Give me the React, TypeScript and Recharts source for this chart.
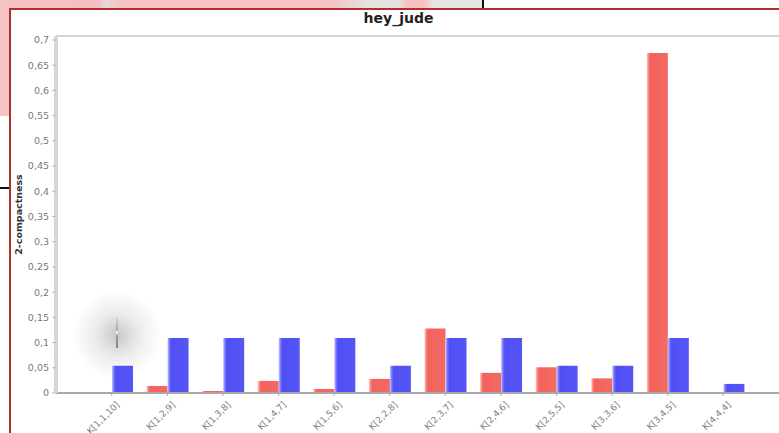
import React from "react";
import { BarChart, Bar, XAxis, YAxis } from "recharts";

const categories = [
  "K[1,1,10]", "K[1,2,9]", "K[1,3,8]", "K[1,4,7]", "K[1,5,6]", "K[2,2,8]",
  "K[2,3,7]", "K[2,4,6]", "K[2,5,5]", "K[3,3,6]", "K[3,4,5]", "K[4,4,4]",
];
const redValues = [0, 0.014, 0.004, 0.024, 0.008, 0.028, 0.128, 0.04, 0.051, 0.029, 0.674, 0];
const blueValues = [0.054, 0.109, 0.109, 0.109, 0.109, 0.054, 0.109, 0.109, 0.054, 0.054, 0.109, 0.018];
const yTicks = [0, 0.05, 0.1, 0.15, 0.2, 0.25, 0.3, 0.35, 0.4, 0.45, 0.5, 0.55, 0.6, 0.65, 0.7];

const data = categories.map((name, i) => ({ name, red: redValues[i], blue: blueValues[i] }));

const FONT = "'DejaVu Sans', Verdana, sans-serif";

function XTick({ x, y, payload }: any) {
  return (
    <g transform={`translate(${x + 4},${y + 3})`}>
      <text x={0} y={0} dy={6} textAnchor="end" transform="rotate(-45)" fontSize={9} fill="#808080" fontFamily={FONT}>
        {payload.value}
      </text>
    </g>
  );
}

export default function App() {
  return (
    <div style={{ position: "absolute", left: 0, top: 0, width: 779, height: 433, overflow: "hidden", background: "#fff" }}>
      {/* screenshot surroundings */}
      <div style={{ position: "absolute", left: 0, top: 0, width: 330, height: 9, background: "linear-gradient(90deg,#f6c3c5 0%,#f3c0c2 30%,#e4dada 32%,#f6c3c5 36%,#f6c3c5 100%)" }} />
      <div style={{ position: "absolute", left: 330, top: 0, width: 152, height: 9, background: "linear-gradient(90deg,#f3c2c4 0%,#e5e2e2 25%,#e5e2e2 45%,#f5c2c4 50%,#f5c2c4 62%,#e6e6e6 68%)" }} />
      <div style={{ position: "absolute", left: 482, top: 0, width: 2, height: 9, background: "#111" }} />
      <div style={{ position: "absolute", left: 0, top: 0, width: 10, height: 116, background: "#f6c3c5" }} />
      <div style={{ position: "absolute", left: 0, top: 187, width: 10, height: 2, background: "#111" }} />
      {/* frame */}
      <div style={{ position: "absolute", left: 9, top: 8, width: 800, height: 500, border: "2px solid #b3302a", background: "#fff" }} />
      <div style={{ position: "absolute", left: 0, top: 8, width: 779, textAlign: "center", fontFamily: FONT, fontWeight: "bold", fontSize: 14, color: "#222", lineHeight: "20px", paddingLeft: 18, boxSizing: "border-box" }}>
        hey_jude
      </div>
      <div style={{ position: "absolute", left: 56, top: 35, width: 723, height: 2, background: "#d6d6d6" }} />
      {/* blur artefact */}
      <div style={{ position: "absolute", left: 72, top: 290, width: 90, height: 90, borderRadius: "50%", background: "radial-gradient(circle, rgba(110,110,110,0.38) 0%, rgba(150,150,150,0.18) 35%, rgba(255,255,255,0) 70%)" }} />
      <div style={{ position: "absolute", left: 116, top: 318, width: 2, height: 30, background: "linear-gradient(180deg,rgba(200,200,200,0.5),#aaa 40%,#fff 47%,#999 60%,#888)" }} />
      <div style={{ position: "absolute", left: 0, top: 0 }}>
        <BarChart width={779} height={433} data={data} margin={{ top: 36, right: 0, left: 0, bottom: 0 }} barCategoryGap={7} barGap={0}>
          <defs>
            <linearGradient id="redFill" x1="0" y1="0" x2="1" y2="0">
              <stop offset="0%" stopColor="#ffc8c4" />
              <stop offset="10%" stopColor="#f47a74" />
              <stop offset="18%" stopColor="#f2625c" />
              <stop offset="100%" stopColor="#f36a64" />
            </linearGradient>
            <linearGradient id="blueFill" x1="0" y1="0" x2="1" y2="0">
              <stop offset="0%" stopColor="#c4c4ff" />
              <stop offset="10%" stopColor="#7070fb" />
              <stop offset="18%" stopColor="#4f4ff5" />
              <stop offset="100%" stopColor="#5656f6" />
            </linearGradient>
          </defs>
          <XAxis
            dataKey="name"
            height={40}
            padding={{ left: 28, right: 28 }}
            axisLine={{ stroke: "#a8a8a8", strokeWidth: 2 }}
            tickLine={{ stroke: "#aaa" }}
            tickSize={3}
            interval={0}
            tick={<XTick />}
          />
          <YAxis
            width={56}
            domain={[0, 0.7]}
            ticks={yTicks}
            padding={{ top: 4 }}
            allowDataOverflow
            tickFormatter={(v: number) => String(v).replace(".", ",")}
            tick={{ fontSize: 9.5, fill: "#777", fontFamily: FONT }}
            tickSize={4}
            tickMargin={3}
            tickLine={{ stroke: "#bbb" }}
            axisLine={{ stroke: "#d6d6d6", strokeWidth: 4 }}
            label={{
              value: "2-compactness",
              angle: -90,
              position: "insideLeft",
              offset: 19,
              style: { textAnchor: "middle", fontSize: 9.5, fontWeight: "bold", fill: "#333", fontFamily: FONT },
            }}
          />
          <Bar dataKey="red" fill="url(#redFill)" isAnimationActive={false} />
          <Bar dataKey="blue" fill="url(#blueFill)" isAnimationActive={false} />
        </BarChart>
      </div>
    </div>
  );
}
